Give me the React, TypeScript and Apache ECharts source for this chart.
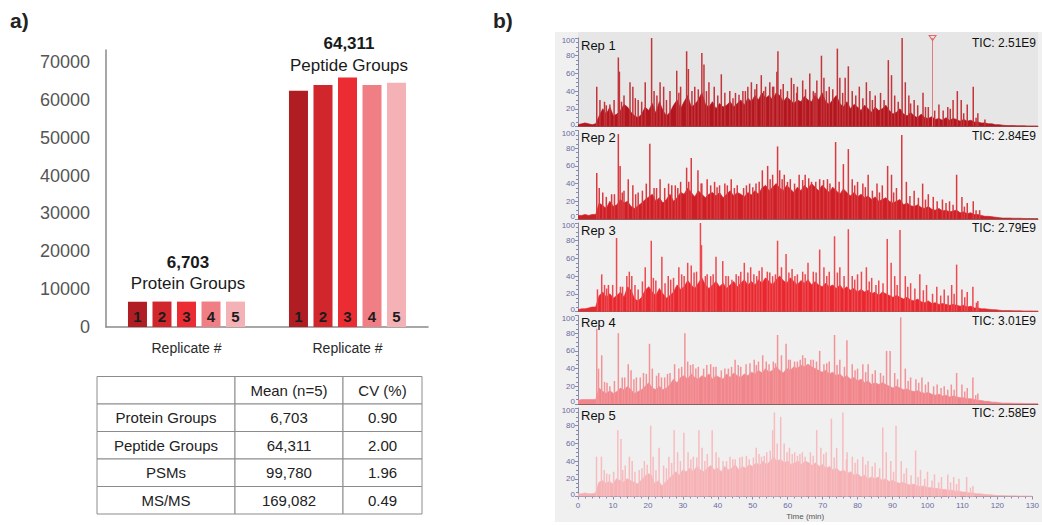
import React, { useEffect, useRef } from 'react';
import * as echarts from 'echarts';

// ---------- Panel a: bar chart ----------
const replicates = ['1', '2', '3', '4', '5'];
const barCategories = ['Protein Groups', 'Peptide Groups'];
const proteinGroups = [6650, 6720, 6700, 6730, 6710];
const peptideGroups = [62400, 63900, 65900, 63900, 64500];
const groupMeanLabels = ['6,703', '64,311'];
const barColors = ['#b01e24', '#d1262c', '#eb2d33', '#ef7f85', '#f4b2b6'];

// ---------- Table ----------
const tableHeader = ['', 'Mean (n=5)', 'CV (%)'];
const tableRowNames = ['Protein Groups', 'Peptide Groups', 'PSMs', 'MS/MS'];
const tableMeans = ['6,703', '64,311', '99,780', '169,082'];
const tableCVs = ['0.90', '2.00', '1.96', '0.49'];

// ---------- Panel b: chromatograms ----------
const repNames = ['Rep 1', 'Rep 2', 'Rep 3', 'Rep 4', 'Rep 5'];
const ticLabels = ['TIC: 2.51E9', 'TIC: 2.84E9', 'TIC: 2.79E9', 'TIC: 3.01E9', 'TIC: 2.58E9'];
const repColors = ['#b3161e', '#cf1f26', '#e8282e', '#f0868b', '#f5b1b4'];
const peakColors = ['#c2353b', '#d93a40', '#ec4a50', '#f29398', '#f7bcbf'];
const cursorTime = 100.2;

// background intensity, one value per minute (0..130)
const rep1Base = [2,3,4,3,2,3,12,20,14,22,
  12,14,18,25,22,16,12,10,14,22,
  18,26,15,28,18,12,16,24,30,20,
  28,35,22,25,30,38,25,22,28,20,
  26,22,24,28,22,26,30,24,32,28,
  35,30,38,32,35,30,38,35,28,33,
  30,26,30,28,34,30,28,35,30,38,
  28,25,30,35,26,22,28,20,25,22,
  18,24,20,16,22,18,20,24,18,14,
  16,20,14,12,16,12,10,14,10,9,
  11,8,9,7,10,7,9,8,6,8,
  6,7,5,5,4,4,3,3,2,2,
  1.5,1,1,1,0.8,0.8,0.8,0.6,0.6,0.6,0.5];
const rep2Base = [4,4,5,4,5,5,18,15,12,20,
  14,16,22,18,20,14,12,15,18,22,
  25,28,20,24,18,22,28,20,24,30,
  28,35,30,25,32,28,24,28,30,26,
  30,24,28,32,26,30,28,25,30,27,
  32,28,35,38,32,36,40,35,32,38,
  34,30,36,32,38,34,40,36,32,38,
  34,30,36,32,28,34,30,26,30,25,
  28,24,26,22,25,20,22,24,20,18,
  20,22,16,18,15,14,16,13,12,14,
  11,10,12,9,10,8,9,10,7,8,
  6,7,5,5,4,3,3,2.5,2,1.5,
  1,1,1,0.8,0.8,0.8,0.6,0.6,0.6,0.5,0.5];
const rep3Base = [2,3,3,4,5,5,18,22,16,20,
  15,18,22,16,28,24,14,12,16,24,
  28,22,18,26,20,15,18,22,30,25,
  28,35,30,26,32,38,30,26,30,34,
  28,32,26,30,34,28,32,36,30,34,
  30,36,32,38,34,30,36,40,35,32,
  38,34,30,35,32,36,30,34,30,28,
  32,28,30,26,30,25,28,24,26,22,
  25,22,24,20,22,18,22,20,18,16,
  18,16,14,16,13,12,14,11,10,12,
  9,10,8,9,8,7,8,7,6,7,
  5,6,4,4,3,3,2.5,2,2,1.5,
  1,1,1,0.8,0.8,0.8,0.6,0.6,0.6,0.5,0.5];
const rep4Base = [4,5,5,5,5,5,18,14,12,15,
  12,14,18,16,20,16,12,14,16,20,
  24,18,16,20,16,18,22,28,24,30,
  32,28,34,30,28,32,30,34,28,32,
  30,28,34,30,35,32,30,34,32,36,
  34,38,35,40,36,38,42,38,35,40,
  38,42,40,44,42,45,42,40,38,36,
  38,34,36,32,34,30,32,28,30,26,
  28,24,26,22,24,22,24,22,20,18,
  20,18,16,17,15,14,15,13,12,13,
  11,10,11,9,10,8,9,8,7,7,
  6,6,5,4,4,3,3,2,2,1.5,
  1,1,1,0.8,0.8,0.8,0.6,0.6,0.6,0.5,0.5];
const rep5Base = [3,3,4,3,3,4,16,18,15,17,
  14,20,18,16,20,18,16,14,18,22,
  26,24,14,18,12,16,20,24,28,24,
  30,28,32,28,34,30,28,32,35,30,
  32,28,34,30,32,36,30,34,32,36,
  34,38,35,40,36,40,44,40,42,38,
  40,36,38,40,36,40,38,35,38,34,
  36,32,34,30,32,28,30,26,28,24,
  26,22,24,20,22,20,22,18,20,17,
  18,16,15,16,14,13,14,12,11,12,
  10,10,9,9,8,8,7,7,6,6,
  5,5,4,4,3,3,2.5,2,2,1.5,
  1,1,1,0.8,0.8,0.8,0.6,0.6,0.6,0.5,0.5];

// prominent peaks [retention time (min), relative abundance]
const rep1Peaks = [[5.3,45],[6.2,30],[7.5,28],[9,25],[11.4,78],[11.7,62],[13,35],[14.7,50],[15.5,45],[17,30],[19,50],[20.8,100],[21.5,40],[23.2,50],[24.2,45],[26,40],[27.9,63],[29,45],[30.7,85],[31.2,65],[33,45],[35,83],[35.6,70],[37,50],[38.5,45],[40.5,59],[42.9,40],[44.5,38],[46.6,40],[48,45],[49,50],[50.5,48],[51.8,58],[53,45],[54.2,50],[55.3,45],[56.2,62],[56.5,85],[58,48],[60.3,55],[61,48],[62,45],[63.5,52],[65.5,60],[66.5,40],[67.5,52],[68.8,80],[69.5,55],[71,45],[73.3,88],[74,55],[75.5,55],[76.4,68],[77.5,40],[79.5,45],[81.5,50],[82.5,40],[84,35],[85.5,38],[87.7,75],[88.6,58],[89.5,35],[91.6,100],[92.5,50],[93.5,35],[95,30],[97.5,38],[99,22],[102,25],[104.5,22],[106,30],[107.2,40],[108.3,30],[110,25],[111.7,45],[113,15],[115,8]];
const rep2Peaks = [[5.3,52],[6,35],[7,30],[9.5,28],[11.4,96],[11.9,60],[13,32],[14.2,45],[15.5,38],[17,30],[19.3,40],[20.3,85],[21.5,35],[23.2,45],[24.5,35],[25.6,40],[27.5,38],[29,42],[30.7,58],[32,69],[33.9,55],[35,40],[36.5,45],[38.6,42],[40,38],[41.5,40],[43.3,45],[45,38],[46.8,35],[48.5,40],[50.3,40],[52.1,55],[53.6,60],[55,50],[56.4,82],[57,55],[58.3,50],[60,45],[62.5,50],[64.2,50],[66,42],[68.3,45],[70.5,45],[72.8,87],[75,62],[76.4,79],[77.5,45],[79,42],[80.5,40],[82,50],[84.5,40],[86,38],[87.5,60],[88.6,50],[90,35],[91.5,95],[92.8,42],[95,32],[97.4,40],[99,28],[100.4,25],[103,22],[105,20],[107,50],[108.5,25],[110,18],[111.7,20],[113.5,10]];
const rep3Peaks = [[5.5,25],[6.7,42],[7.5,30],[8.6,30],[10.9,83],[12,28],[13.8,40],[14.5,45],[15.2,40],[17,25],[19,50],[20.7,80],[22,35],[23.7,62],[25.5,40],[27,38],[28.5,50],[30,40],[31,55],[32,52],[33.5,45],[34.6,100],[34.9,75],[36.5,42],[37.5,40],[39,62],[40.9,57],[42.5,40],[44.7,42],[46,45],[47,55],[48.8,50],[50.5,40],[52,50],[53.5,45],[55,40],[56.4,80],[57.5,50],[58.8,65],[60.5,48],[62,42],[63.5,45],[65,55],[66.5,45],[68.3,70],[69.5,50],[71,45],[72.5,85],[74,50],[76.4,93],[77.5,40],[79,42],[80.1,45],[81.5,50],[83,38],[85,35],[87.4,82],[88.5,55],[89.5,40],[91,92],[92.5,40],[94,32],[96.6,42],[98.5,30],[101.4,28],[103.5,25],[105.6,30],[107,53],[108.5,25],[110,22],[111.6,28],[113,12]];
const rep4Peaks = [[5.3,85],[5.8,40],[6.7,55],[7.5,25],[9,20],[11.4,80],[12.5,30],[14.2,45],[15,38],[16.5,30],[18.5,35],[20.2,68],[21,40],[22.8,35],[24.5,30],[26,35],[27.3,45],[28.5,40],[30.2,80],[31,48],[32.5,45],[34,42],[35.5,40],[37.5,45],[39,42],[40.5,38],[42.5,40],[44.4,50],[46,42],[47.5,45],[49.8,50],[51,48],[52.2,55],[54,45],[55.2,48],[56.4,78],[57.5,55],[58.8,68],[60,50],[62,48],[63.5,55],[65,45],[66.5,50],[68.3,60],[69.5,45],[71,48],[72.5,78],[74,50],[76,72],[77.5,45],[79,40],[80.5,45],[82,45],[84,38],[85.5,35],[87.2,60],[88.2,60],[89.5,35],[91.2,98],[92.5,40],[94,30],[95.5,28],[97.2,30],[99,25],[101.5,22],[103.5,20],[105.5,22],[107,35],[108.5,22],[110,18],[111.6,30],[113,12]];
const rep5Peaks = [[5.3,45],[6.7,45],[7.5,30],[9,25],[11.4,75],[12.3,65],[13.5,35],[14.7,45],[15.5,40],[17.5,30],[19,40],[20.8,80],[21.5,45],[23.2,55],[24.5,35],[26,45],[27.5,75],[28.5,50],[30.3,72],[31.5,50],[33,45],[34.6,75],[35.5,55],[37,48],[38.4,75],[39.5,50],[41.5,40],[43.5,45],[45,42],[47,45],[49,42],[51,55],[52.5,45],[54,50],[55.7,75],[56.2,95],[57,60],[58,90],[59,60],[60.5,55],[62,50],[63.5,48],[65,45],[66.5,50],[68.3,75],[69.5,55],[71,50],[72.5,88],[74,55],[75.8,95],[77,50],[78.5,45],[80,42],[81.5,45],[83,40],[85,38],[87.2,78],[88.2,50],[89.5,40],[91,80],[92.5,40],[94,32],[96.6,52],[98,30],[100,28],[102,25],[104,22],[105.8,25],[107.5,22],[109,20],[111.2,22],[113,12]];

// smaller peaks in between [retention time (min), relative abundance]
const rep1Minor = [[8,24],[10.2,30],[12.3,28],[16.2,32],[18,28],[22.3,35],[25,30],[28.5,38],[32.2,40],[34,42],[36.3,40],[39.5,35],[41.5,38],[43.8,32],[45.5,36],[47.3,40],[50,42],[52.5,40],[55,45],[57.3,42],[59.2,40],[61.8,38],[64.3,42],[67,38],[70.2,40],[72,42],[74.8,38],[78.5,35],[80.5,32],[83.2,30],[86.5,30],[90.5,28],[94,26],[96,24],[98.2,22],[100.8,18],[103.2,18],[105.2,20],[109,15],[112.5,10]];
const rep2Minor = [[8,25],[10.3,28],[12.5,30],[16.3,28],[18.2,32],[22.2,35],[26.5,38],[28.2,35],[31.3,42],[34.8,40],[37.5,38],[39.3,36],[42.2,38],[44.2,35],[47.6,38],[49.4,36],[51.2,42],[54.3,45],[57.7,45],[59.2,42],[61.2,40],[63.5,44],[65.2,46],[67.2,42],[69.4,44],[71.2,40],[73.8,42],[78.2,38],[81.2,36],[83.2,32],[85.2,30],[89.2,30],[93.8,26],[96.2,24],[98.2,22],[101.5,20],[104,18],[106,16],[109.2,14],[112.5,10]];
const rep3Minor = [[8.1,26],[9.8,30],[12.6,28],[16.1,30],[18.2,34],[21.3,38],[24.6,32],[26.2,36],[29.3,42],[32.8,44],[36,40],[38.2,42],[41.8,40],[43.5,36],[45.4,40],[48,44],[49.7,42],[51.2,46],[54.2,44],[55.8,42],[59.6,44],[61.3,40],[64.2,42],[67.3,44],[70.3,40],[73.3,44],[75.2,40],[78.2,36],[82.3,34],[84.2,30],[86.2,32],[90.2,30],[93.2,28],[95.2,26],[97.6,24],[100.2,20],[102.5,18],[104.6,18],[106.3,20],[109.3,16],[112.6,10]];
const rep4Minor = [[8.2,24],[10.3,26],[13.2,30],[15.8,28],[17.6,30],[19.3,34],[22.2,32],[23.6,30],[25.3,34],[29.3,42],[31.8,44],[33.3,40],[36.4,44],[38.3,42],[41.5,40],[43.4,42],[45.3,44],[48.6,46],[50.4,44],[53.2,48],[55.8,46],[59.5,50],[61.2,48],[62.8,50],[64.2,52],[65.8,50],[67.4,48],[70.3,46],[73.2,44],[75.3,42],[78.3,38],[81.3,36],[83.2,34],[86.3,32],[90.3,28],[93.3,26],[96.3,24],[98.2,22],[100.5,20],[102.6,18],[104.5,16],[106.3,16],[109.3,14],[112.4,10]];
const rep5Minor = [[8.2,26],[10.2,28],[12.8,30],[16.3,28],[18.3,32],[19.8,36],[22.3,30],[25.3,32],[26.8,38],[29.3,40],[32.3,42],[34,44],[36.3,40],[40.3,44],[42.5,40],[44.3,42],[46.3,44],[48.2,46],[50.2,44],[51.8,48],[53.3,46],[55,52],[59.8,50],[61.3,48],[62.8,46],[64.2,50],[67.3,46],[70.3,48],[73.3,44],[76.8,42],[79.3,38],[82.3,36],[84.2,34],[86.3,32],[90.3,28],[93.3,26],[95.3,24],[97.3,22],[99.2,20],[101.3,18],[103.2,16],[106.6,16],[108.3,14],[112.3,10]];

const repBases = [rep1Base, rep2Base, rep3Base, rep4Base, rep5Base];
const repPeaks = [rep1Peaks, rep2Peaks, rep3Peaks, rep4Peaks, rep5Peaks];
const repMinor = [rep1Minor, rep2Minor, rep3Minor, rep4Minor, rep5Minor];

const FONT = '"Liberation Sans", Arial, sans-serif';
const AXIS_BLUE = '#6a6aa2';
const CH_TOP = 38;
const CH_STEP = 92.5;
const CH_H = 88.5;

function buildOption() {
  const grids: any[] = [{ left: 106, top: 50, width: 322, height: 277 }];
  const xAxes: any[] = [{
    type: 'category', gridIndex: 0, data: barCategories,
    axisLine: { lineStyle: { color: '#8a8a8a', width: 1.5 } },
    axisTick: { show: false },
    axisLabel: { formatter: () => 'Replicate #', fontSize: 14, color: '#2a2a2a', margin: 14, fontFamily: FONT },
  }];
  const yAxes: any[] = [{
    type: 'value', gridIndex: 0, min: 0, max: 73170, interval: 10000,
    axisLine: { show: true, lineStyle: { color: '#8a8a8a', width: 1.5 } },
    axisTick: { show: false },
    splitLine: { show: false },
    axisLabel: {
      formatter: (v: number) => (v % 10000 === 0 && v <= 70000 ? String(v) : ''),
      fontSize: 18, color: '#555', margin: 16, fontFamily: FONT,
    },
  }];
  const series: any[] = [];

  replicates.forEach((r, i) => {
    series.push({
      type: 'bar', xAxisIndex: 0, yAxisIndex: 0, name: 'Replicate ' + r,
      data: [proteinGroups[i], peptideGroups[i]],
      barWidth: 19, barGap: '29%',
      itemStyle: { color: barColors[i] },
      label: {
        show: true, position: 'insideBottom', distance: 3, formatter: r,
        fontSize: 15, fontWeight: 'bold', color: '#1c1c1c', fontFamily: FONT,
      },
      silent: true,
    });
  });

  repNames.forEach((name, i) => {
    const gi = i + 1;
    const last = i === 4;
    grids.push({
      left: 578, right: 4, top: CH_TOP + CH_STEP * i, height: CH_H,
    });
    xAxes.push({
      type: 'value', gridIndex: gi, min: 0, max: 130, interval: 10,
      axisLine: { show: true, onZero: false, lineStyle: { color: last ? '#8a8aaa' : '#8a6060', width: 1 } },
      axisTick: { show: last, length: 3, lineStyle: { color: '#8a8aaa' } },
      minorTick: { show: last, splitNumber: 5, length: 2, lineStyle: { color: '#8a8aaa' } },
      axisLabel: { show: last, fontSize: 8, color: AXIS_BLUE, margin: 5, fontFamily: FONT },
      splitLine: { show: false },
      name: last ? 'Time (min)' : '',
      nameLocation: 'middle', nameGap: 16,
      nameTextStyle: { fontSize: 8, color: '#555', fontFamily: FONT },
    });
    yAxes.push({
      type: 'value', gridIndex: gi, min: 0, max: 100, interval: 20,
      axisLine: { show: true, lineStyle: { color: '#8a8aaa', width: 1 } },
      axisTick: { show: true, length: 3, lineStyle: { color: '#8a8aaa' } },
      minorTick: { show: true, splitNumber: 4, length: 2, lineStyle: { color: '#8a8aaa' } },
      axisLabel: {
        fontSize: 8, color: AXIS_BLUE, margin: 3, fontFamily: FONT,
        formatter: (v: number) => (v === 0 ? '{lo|0}' : v === 100 ? '{hi|100}' : String(v)),
        rich: {
          lo: { fontSize: 8, color: AXIS_BLUE, fontFamily: FONT, padding: [0, 0, 5, 0] },
          hi: { fontSize: 8, color: AXIS_BLUE, fontFamily: FONT, padding: [5, 0, 0, 0] },
        },
      },
      splitLine: { show: false },
    });
    const color = repColors[i];
    const lineSeries: any = {
      type: 'line', xAxisIndex: gi, yAxisIndex: gi, name,
      data: repBases[i].map((v, t) => [t, v]),
      symbol: 'none', showSymbol: false,
      lineStyle: { width: 0.7, color },
      areaStyle: { color, opacity: 1 },
      z: 2, silent: true,
    };
    if (i === 0) {
      lineSeries.markLine = {
        silent: true, symbol: ['none', 'none'],
        lineStyle: { color: '#e77a7a', width: 1, type: 'solid' },
        label: { show: false },
        data: [{ xAxis: cursorTime }],
      };
      lineSeries.markPoint = {
        silent: true,
        data: [{
          coord: [cursorTime, 100], symbol: 'triangle', symbolRotate: 180, symbolSize: [7, 5],
          itemStyle: { color: 'rgba(0,0,0,0)', borderColor: '#e06a6a', borderWidth: 1 },
          label: { show: false },
        }],
      };
    }
    series.push(lineSeries);
    series.push({
      type: 'bar', xAxisIndex: gi, yAxisIndex: gi, name: name + ' peaks',
      data: repPeaks[i].concat(repMinor[i]),
      barWidth: 1.5,
      itemStyle: { color: peakColors[i] },
      z: 3, silent: true,
    });
  });

  // ---------- graphic: backgrounds, titles, annotations, table ----------
  const g: any[] = [];
  g.push({ type: 'rect', z: -10, shape: { x: 555, y: 32, width: 487, height: 490 }, style: { fill: '#f0f0f0' } });
  g.push({ type: 'rect', z: -9, shape: { x: 578, y: 32, width: 460, height: 95 }, style: { fill: '#e6e6e6' } });

  g.push({ type: 'text', x: 10, y: 20, z: 50, style: { text: 'a)', fontSize: 21, fontWeight: 'bold', fill: '#222', fontFamily: FONT, verticalAlign: 'middle' } });
  g.push({ type: 'text', x: 493, y: 20, z: 50, style: { text: 'b)', fontSize: 21, fontWeight: 'bold', fill: '#222', fontFamily: FONT, verticalAlign: 'middle' } });

  const groupX = [188, 349];
  const meanY = [262, 43.5];
  barCategories.forEach((c, k) => {
    g.push({ type: 'text', x: groupX[k], y: meanY[k], z: 50, style: { text: groupMeanLabels[k], fontSize: 17, fontWeight: 'bold', fill: '#1a1a1a', fontFamily: FONT, align: 'center', verticalAlign: 'middle' } });
    g.push({ type: 'text', x: groupX[k], y: meanY[k] + 21.5, z: 50, style: { text: c, fontSize: 17, fill: '#1a1a1a', fontFamily: FONT, align: 'center', verticalAlign: 'middle' } });
  });

  // table
  const colX = [97, 235, 343, 422];
  const rowY = [376.5, 404, 431.5, 459, 486.5, 514];
  const rows = [tableHeader, ...tableRowNames.map((n, k) => [n, tableMeans[k], tableCVs[k]])];
  rows.forEach((row, r) => {
    row.forEach((txt, c) => {
      g.push({
        type: 'rect', z: 40,
        shape: { x: colX[c], y: rowY[r], width: colX[c + 1] - colX[c], height: rowY[r + 1] - rowY[r] },
        style: { fill: '#fff', stroke: '#8c8c8c', lineWidth: 1 },
      });
      if (txt) {
        g.push({
          type: 'text', z: 41,
          x: (colX[c] + colX[c + 1]) / 2, y: (rowY[r] + rowY[r + 1]) / 2,
          style: { text: txt, fontSize: 15, fill: '#222', fontFamily: FONT, align: 'center', verticalAlign: 'middle' },
        });
      }
    });
  });

  repNames.forEach((name, i) => {
    const top = CH_TOP + CH_STEP * i;
    g.push({ type: 'text', x: 581, y: top + 7, z: 50, style: { text: name, fontSize: 13, fill: '#111', fontFamily: FONT, verticalAlign: 'middle' } });
    g.push({ type: 'text', x: 1036, y: top + 5, z: 50, style: { text: ticLabels[i], fontSize: 12, fill: '#111', fontFamily: FONT, align: 'right', verticalAlign: 'middle' } });
  });

  return {
    animation: false,
    backgroundColor: '#ffffff',
    textStyle: { fontFamily: FONT },
    grid: grids,
    xAxis: xAxes,
    yAxis: yAxes,
    series,
    graphic: { elements: g },
  };
}

export default function App() {
  const ref = useRef<HTMLDivElement>(null);
  useEffect(() => {
    if (!ref.current) return;
    const chart = echarts.init(ref.current, null, { renderer: 'svg', width: 1042, height: 525 });
    chart.setOption(buildOption());
    return () => chart.dispose();
  }, []);
  return (
    <div
      ref={ref}
      style={{ position: 'absolute', left: 0, top: 0, width: 1042, height: 525, background: '#fff' }}
    />
  );
}
